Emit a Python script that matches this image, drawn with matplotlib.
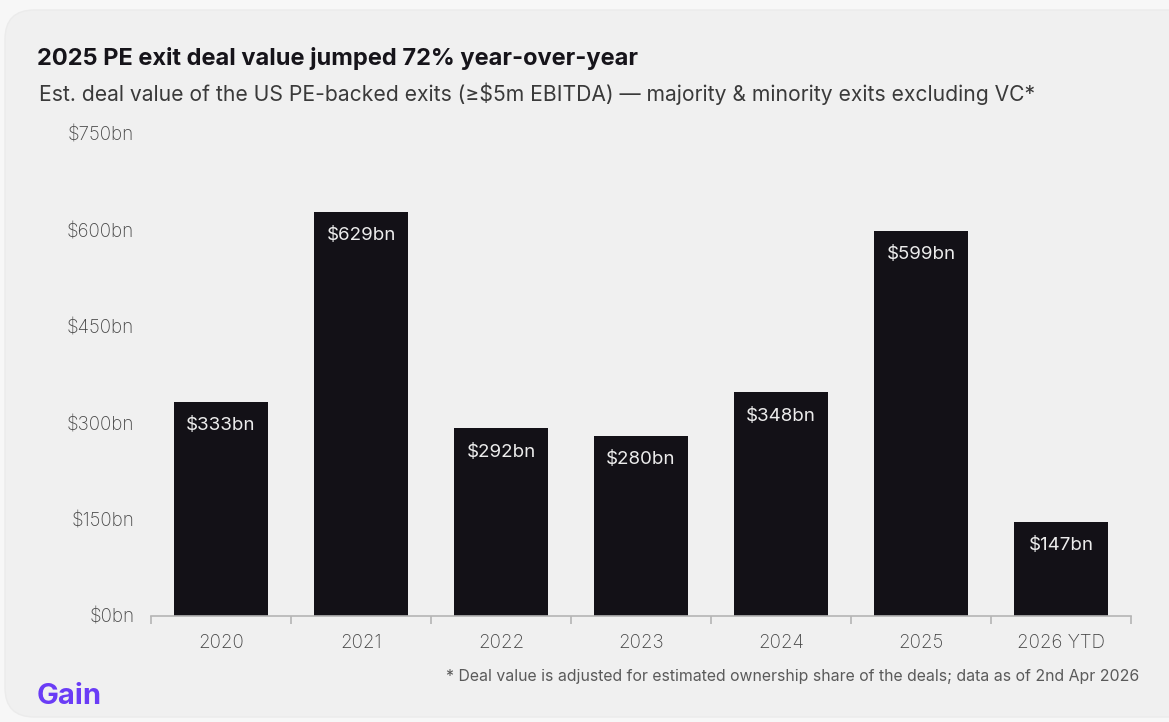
import numpy as np
import matplotlib.pyplot as plt
from matplotlib.patches import FancyBboxPatch
from matplotlib.ticker import FixedLocator

# Exit deal value by year, $bn
years = ['2020', '2021', '2022', '2023', '2024', '2025', '2026 YTD']
values = [333, 629, 292, 280, 348, 599, 147]
y_ticks = [0, 150, 300, 450, 600, 750]

plt.rcParams['font.family'] = ['Inter', 'DejaVu Sans']

fig = plt.figure(figsize=(11.69, 7.22), dpi=100, facecolor='#f7f7f7')

# rounded card behind the chart
card = FancyBboxPatch((5 / 1169, 5 / 722), 1.2, 707 / 722,
                      boxstyle='round,pad=0,rounding_size=0.025',
                      transform=fig.transFigure, facecolor='#f0f0f0',
                      edgecolor='#ebebeb', linewidth=1, zorder=-1,
                      mutation_aspect=1169 / 722)
fig.patches.append(card)

ax = fig.add_axes([151 / 1169, 1 - 616 / 722, 980 / 1169, 482 / 722])
ax.set_facecolor('none')
ax.set_zorder(1)

x = np.arange(len(years))
bars = ax.bar(x, values, width=0.665, color='#131117', zorder=2)

for xi, v in zip(x, values):
    ax.text(xi, v - 24, f'${v}bn', ha='center', va='top',
            fontsize=13.5, color='#ececec', zorder=3)

ax.set_xlim(-0.5, len(years) - 0.5)
ax.set_ylim(0, 750)
ax.set_yticks(y_ticks)
ax.set_yticklabels([f'${t}bn' for t in y_ticks], fontweight='light')
ax.set_xticks(x)
ax.set_xticklabels(years, fontweight='light')
ax.xaxis.set_minor_locator(FixedLocator(np.arange(-0.5, len(years), 1)))

for side in ['top', 'right', 'left']:
    ax.spines[side].set_visible(False)
ax.spines['bottom'].set_color('#b5b5b5')
ax.spines['bottom'].set_linewidth(1.2)

ax.tick_params(axis='y', length=0, pad=12, labelsize=13.5, labelcolor='#474747')
ax.tick_params(axis='x', which='major', length=0, pad=13, labelsize=13.5,
               labelcolor='#474747')
ax.tick_params(axis='x', which='minor', length=6, width=1.2, color='#b5b5b5')

fig.text(37 / 1169, 1 - 58 / 722, '2025 PE exit deal value jumped 72% year-over-year',
         fontsize=17, fontweight='bold', color='#16141a', va='center')
fig.text(39 / 1169, 1 - 94 / 722,
         'Est. deal value of the US PE-backed exits (≥$5m EBITDA) — majority & minority exits excluding VC*',
         fontsize=15.2, color='#3a3a3a', va='center')
fig.text(1139 / 1169, 1 - 676 / 722,
         '* Deal value is adjusted for estimated ownership share of the deals; data as of 2nd Apr 2026',
         fontsize=11.4, color='#5a5a5a', ha='right', va='center')
fig.text(37 / 1169, 1 - 696 / 722, 'Gain', fontsize=21, fontweight='bold',
         color='#6a3cf6', va='center')

fig.savefig('out.png', dpi=100, facecolor=fig.get_facecolor())
